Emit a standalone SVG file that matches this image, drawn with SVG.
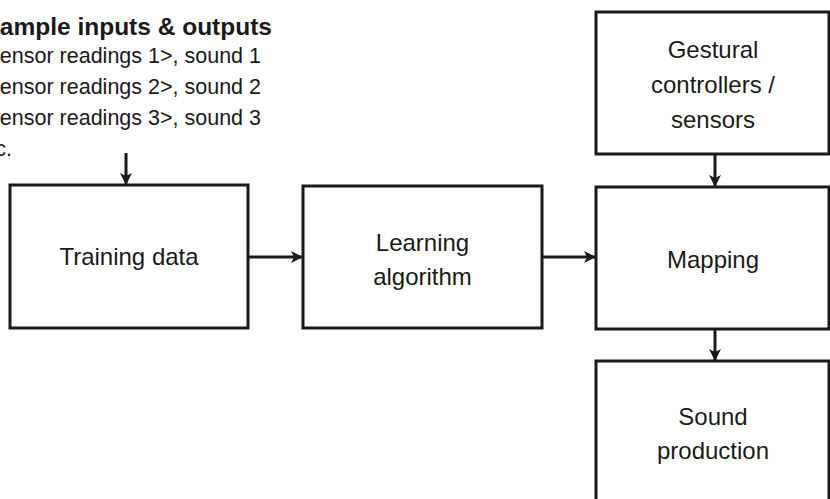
<svg xmlns="http://www.w3.org/2000/svg" width="830" height="499" viewBox="0 0 830 499">
<style>
.box{fill:#fff;stroke:#1a1a1a;stroke-width:3}
.lbl{font-family:"Liberation Sans",Arial,sans-serif;font-size:24px;fill:#1a1a1a;text-anchor:middle}
.note{font-family:"Liberation Sans",Arial,sans-serif;font-size:21.5px;fill:#1a1a1a;text-anchor:end}
.title{font-family:"Liberation Sans",Arial,sans-serif;font-size:24.5px;font-weight:bold;fill:#1a1a1a;text-anchor:end}
.edge{stroke:#1a1a1a;stroke-width:3;fill:none}
</style>
<defs>
<marker id="ah" viewBox="0 0 12 12" refX="11" refY="6" markerWidth="12" markerHeight="12" markerUnits="userSpaceOnUse" orient="auto">
<path d="M0,0 L12,6 L0,12 L3,6 Z" fill="#1a1a1a"/>
</marker>
</defs>
<rect width="830" height="499" fill="#fff"/>
<g id="note">
<text class="title" x="272" y="35">Example inputs &amp; outputs</text>
<text class="note" x="261" y="63">&lt;sensor readings 1&gt;, sound 1</text>
<text class="note" x="261" y="94">&lt;sensor readings 2&gt;, sound 2</text>
<text class="note" x="261" y="125">&lt;sensor readings 3&gt;, sound 3</text>
<text class="note" x="12" y="156">etc.</text>
</g>
<g id="training">
<rect class="box" x="10" y="185" width="238" height="143"/>
<text class="lbl" x="129" y="265">Training data</text>
</g>
<g id="learning">
<rect class="box" x="303" y="186" width="239" height="142"/>
<text class="lbl" x="422.5" y="251">Learning</text>
<text class="lbl" x="422.5" y="285">algorithm</text>
</g>
<g id="gestural">
<rect class="box" x="596" y="12" width="233" height="142"/>
<text class="lbl" x="713" y="58">Gestural</text>
<text class="lbl" x="713" y="93">controllers /</text>
<text class="lbl" x="713" y="128">sensors</text>
</g>
<g id="mapping">
<rect class="box" x="596" y="187" width="233" height="142"/>
<text class="lbl" x="713" y="268">Mapping</text>
</g>
<g id="sound">
<rect class="box" x="596" y="361" width="233" height="160"/>
<text class="lbl" x="713" y="425">Sound</text>
<text class="lbl" x="713" y="459">production</text>
</g>
<g id="connectors">
<line class="edge" x1="126" y1="153" x2="126" y2="184" marker-end="url(#ah)"/>
<line class="edge" x1="248" y1="257" x2="302" y2="257" marker-end="url(#ah)"/>
<line class="edge" x1="542" y1="257" x2="595" y2="257" marker-end="url(#ah)"/>
<line class="edge" x1="715" y1="154" x2="715" y2="186" marker-end="url(#ah)"/>
<line class="edge" x1="715" y1="329" x2="715" y2="360" marker-end="url(#ah)"/>
</g>
</svg>
